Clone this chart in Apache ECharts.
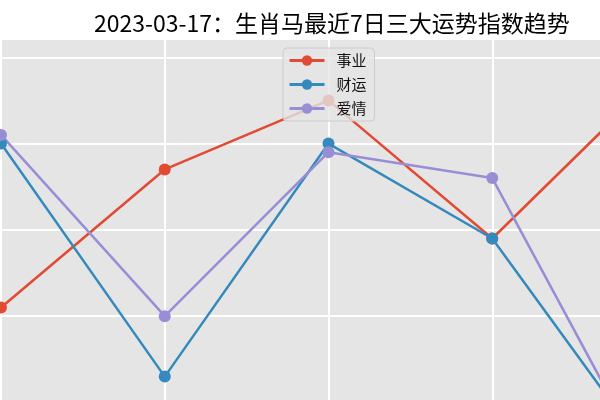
<!DOCTYPE html>
<html>
<head>
<meta charset="utf-8">
<script src="https://cdn.jsdelivr.net/npm/echarts@6/dist/echarts.min.js"></script>
<style>
html,body{margin:0;padding:0;background:#fff;}
#chart{width:600px;height:400px;}
</style>
</head>
<body>
<div id="chart"></div>
<script>
// visible window of the 7-day chart (day positions within the crop)
const dayIndex = [0, 1, 2, 3, 4];
const career = [71.0, 87.0, 95.0, 79.0, 97.6];   // 事业
const wealth = [90.0, 63.0, 90.0, 79.0, 52.9];   // 财运
const love   = [91.0, 70.0, 89.0, 86.0, 50.8];   // 爱情
const seriesNames = ['事业', '财运', '爱情'];
const titleText = '2023-03-17：生肖马最近7日三大运势指数趋势';

const colors = ['#E24A33', '#348ABD', '#988ED5'];
const font = '"Noto Sans CJK SC", "Noto Sans", sans-serif';

function pairs(arr) { return arr.map((v, i) => [dayIndex[i], v]); }

const chart = echarts.init(document.getElementById('chart'), null, {renderer: 'canvas'});
const mk = (name, data, color) => ({
  name: name, type: 'line', data: pairs(data),
  symbol: 'circle', symbolSize: 12,
  lineStyle: {width: 2.5, color: color},
  itemStyle: {color: color},
  emphasis: {disabled: true},
  animation: false, clip: true
});

chart.setOption({
  animation: false,
  color: colors,
  title: {
    text: titleText, left: 89, top: 7,
    textStyle: {fontFamily: font, fontSize: 23, fontWeight: 'normal', color: '#000'}
  },
  legend: {
    orient: 'vertical', left: 283, top: 48,
    padding: [5, 8, 5, 5],
    itemWidth: 35, itemHeight: 13, itemGap: 9,
    backgroundColor: 'rgba(229,229,229,0.8)',
    borderColor: '#CCCCCC', borderWidth: 1, borderRadius: 4,
    lineStyle: {width: 3},
    textStyle: {fontFamily: font, fontSize: 15, color: '#111', padding: [0, 0, 0, 7]},
    data: seriesNames
  },
  grid: {
    show: true, backgroundColor: '#E5E5E5', borderWidth: 0,
    left: 1, right: -56, top: 40, bottom: -88.8,
    containLabel: false, outerBoundsMode: 'none'
  },
  xAxis: {
    type: 'value', min: 0, max: 4, interval: 1,
    axisLine: {show: false}, axisTick: {show: false}, axisLabel: {show: false},
    splitLine: {show: true, showMaxLine: false, lineStyle: {color: '#FFFFFF', width: 2}}
  },
  yAxis: {
    type: 'value', min: 50, max: 102, interval: 10,
    axisLine: {show: false}, axisTick: {show: false}, axisLabel: {show: false},
    splitLine: {show: true, showMaxLine: false, lineStyle: {color: '#FFFFFF', width: 2}}
  },
  series: [
    mk(seriesNames[0], career, colors[0]),
    mk(seriesNames[1], wealth, colors[1]),
    mk(seriesNames[2], love, colors[2])
  ]
});
</script>
</body>
</html>
